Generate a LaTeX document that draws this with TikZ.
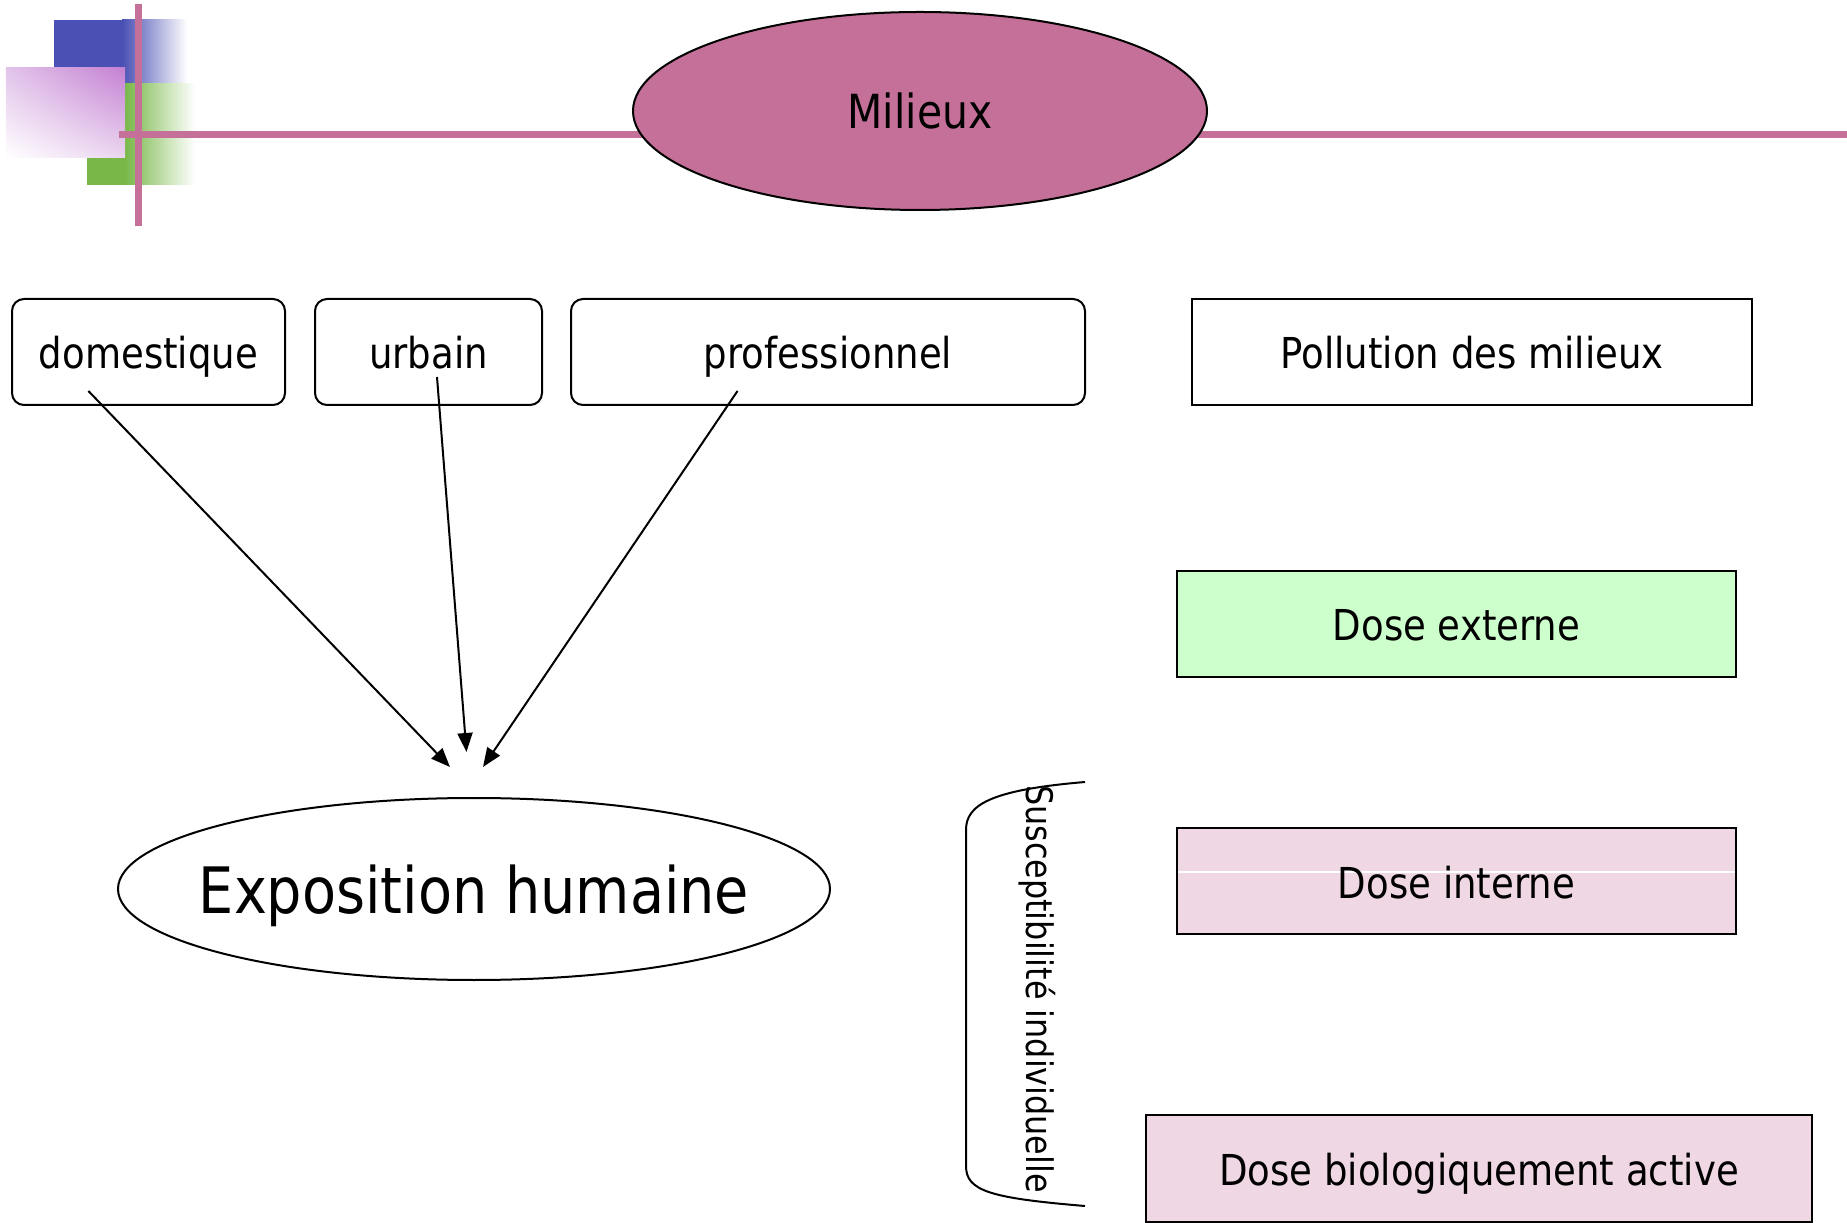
\documentclass[tikz,border=0pt]{standalone}
\usepackage{fontspec}
\setmainfont[FakeStretch=0.87]{DejaVu Sans}
\usepackage{tikz}
\usetikzlibrary{arrows.meta,shapes.geometric,positioning,shadings}
\definecolor{rose}{RGB}{197,112,153}
\definecolor{bleu}{RGB}{74,80,180}
\definecolor{vert}{RGB}{120,184,72}
\definecolor{mauve}{RGB}{196,128,210}
\definecolor{lavande}{RGB}{226,196,234}
\definecolor{vertclair}{RGB}{204,255,204}
\definecolor{roseclair}{RGB}{239,216,228}

\begin{document}
\begin{tikzpicture}[x=50pt, y=50pt,
		boite/.style = {draw, line width=1pt, minimum height=53pt, inner sep=0pt, text height=17pt, text depth=0pt, font=\fontsize{21.3}{25}\selectfont},
		arrondi/.style = {boite, rounded corners=6pt},
		fleche/.style = {line width=1pt, -{Triangle[length=9.5pt, width=7.5pt]}},
		trait/.style = {rose, line width=3.5pt}
	]
		\useasboundingbox (0,0) rectangle (18.47,12.22);
		% coin decoratif
		\fill [bleu] (0.54,11.38) rectangle (1.23,12.02);
		\shade [left color=bleu, right color=white] (1.22,11.38) rectangle (1.87,12.02);
		\fill [vert] (0.87,10.37) rectangle (1.26,11.38);
		\shade [left color=vert, right color=white] (1.25,10.37) rectangle (1.95,11.38);
		\shade [upper left=lavande, upper right=mauve, lower left=white, lower right=lavande!70!white] (0.06,10.64) rectangle (1.25,11.54);
		\draw [trait] (1.19,10.87) -- (18.47,10.87);
		\draw [trait] (1.385,12.18) -- (1.385,9.96);
		\node [ellipse, draw, line width=1pt, fill=rose, minimum width=287pt, minimum height=99pt, font=\fontsize{23.5}{28}\selectfont](milieux) at (9.20,11.11) {Milieux};
		% milieux
		\node [arrondi, minimum width=136.5pt](dom) at (1.485,8.70) {domestique};
		\node [arrondi, minimum width=113.5pt](urb) at (4.285,8.70) {urbain};
		\node [arrondi, minimum width=257pt](pro) at (8.28,8.70) {professionnel};
		\node [boite, minimum width=280pt](pol) at (14.72,8.70) {Pollution des milieux};
		\node [boite, fill=vertclair, minimum width=279.5pt](ext) at (14.565,5.98) {Dose externe};
		\node [boite, fill=roseclair, minimum width=279.5pt, path picture={\draw [white, line width=0.6pt] ([yshift=4.5pt]path picture bounding box.west) -- ([yshift=4.5pt]path picture bounding box.east);}](int) at (14.565,3.41) {Dose interne};
		\node [boite, fill=roseclair, minimum width=333pt, minimum height=53.5pt](bio) at (14.79,0.535) {Dose biologiquement active};
		\node [ellipse, draw, line width=1pt, inner sep=0pt, minimum width=356pt, minimum height=91pt, text height=24pt, text depth=0pt, font=\fontsize{32}{38}\selectfont](expo) at (4.74,3.33) {\makebox[0pt]{Exposition humaine}};
		% fleches
		\coordinate (dom-d) at (0.884,8.31);
		\coordinate (urb-d) at (4.37,8.45);
		\coordinate (pro-d) at (7.375,8.31);
		\coordinate (expo-g) at (4.50,4.55);
		\coordinate (expo-m) at (4.665,4.70);
		\coordinate (expo-d) at (4.83,4.55);
		\draw [fleche] (dom-d) -- (expo-g);
		\draw [fleche] (urb-d) -- (expo-m);
		\draw [fleche] (pro-d) -- (expo-d);
		% susceptibilite
		\draw [line width=1pt] (10.85,4.40) .. controls (9.90,4.32) and (9.66,4.17) .. (9.66,3.92) -- (9.66,0.56) .. controls (9.66,0.31) and (9.90,0.24) .. (10.85,0.16);
		\node [rotate=-90, font=\fontsize{18.3}{21}\selectfont](susc) at (10.37,2.33) {Susceptibilité individuelle};
	\end{tikzpicture}
\end{document}
